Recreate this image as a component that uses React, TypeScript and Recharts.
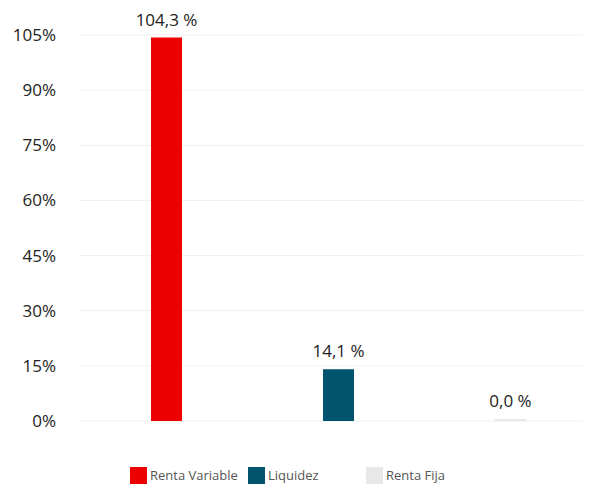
import React from 'react';
import { BarChart, Bar, XAxis, YAxis, CartesianGrid, Legend, LabelList, Cell } from 'recharts';

const categories = ['Renta Variable', 'Liquidez', 'Renta Fija'];
const values = [104.3, 14.1, 0.0];
const colors = ['#EC0000', '#00546E', '#E8E8E8'];
const yTicks = [0, 15, 30, 45, 60, 75, 90, 105];

const data = categories.map((name, i) => ({ name, value: values[i] }));

const FONT = '"Open Sans", "DejaVu Sans", sans-serif';

const fmt = (v: any) => (v == null ? '' : Number(v).toFixed(1).replace('.', ',') + ' %');

const LegendContent = () => (
  <div style={{ height: 66, paddingTop: 46, boxSizing: 'border-box', paddingLeft: 122, display: 'flex', fontFamily: FONT }}>
    {categories.map((c, i) => (
      <div key={c} style={{ width: 118, display: 'flex', alignItems: 'center', height: 17 }}>
        <div style={{ width: 17, height: 17, background: colors[i], marginRight: 3 }} />
        <span style={{ fontSize: 13, color: '#555', lineHeight: '17px' }}>{c}</span>
      </div>
    ))}
  </div>
);

const BarLabel = (props: any) => {
  const { x, y, width, value } = props;
  return (
    <text
      x={Number(x) + Number(width) / 2}
      y={Number(y) - 12}
      textAnchor="middle"
      fill="#222"
      fontSize={17}
      fontFamily={FONT}
    >
      {fmt(value)}
    </text>
  );
};

export default function App() {
  return (
    <div style={{ width: 583, overflow: 'hidden' }}>
      <BarChart
        width={588}
        height={479}
        data={data}
        margin={{ top: 27, right: 0, bottom: 0, left: 0 }}
        barSize={31}
      >
        <CartesianGrid vertical={false} stroke="#efefef" />
        <XAxis dataKey="name" hide />
        <YAxis
          domain={[0, 105]}
          ticks={yTicks}
          width={72}
          axisLine={false}
          tickLine={false}
          tickMargin={18}
          tickFormatter={(v: number) => `${v}%`}
          tick={{ fill: '#222', fontSize: 17, fontFamily: FONT }}
        />
        <Legend verticalAlign="bottom" content={<LegendContent />} wrapperStyle={{ left: 0, bottom: 0, width: 588 }} />
        <Bar dataKey="value" isAnimationActive={false} minPointSize={2}>
          {data.map((d, i) => (
            <Cell key={d.name} fill={colors[i]} />
          ))}
          <LabelList dataKey="value" content={BarLabel} />
        </Bar>
      </BarChart>
    </div>
  );
}
